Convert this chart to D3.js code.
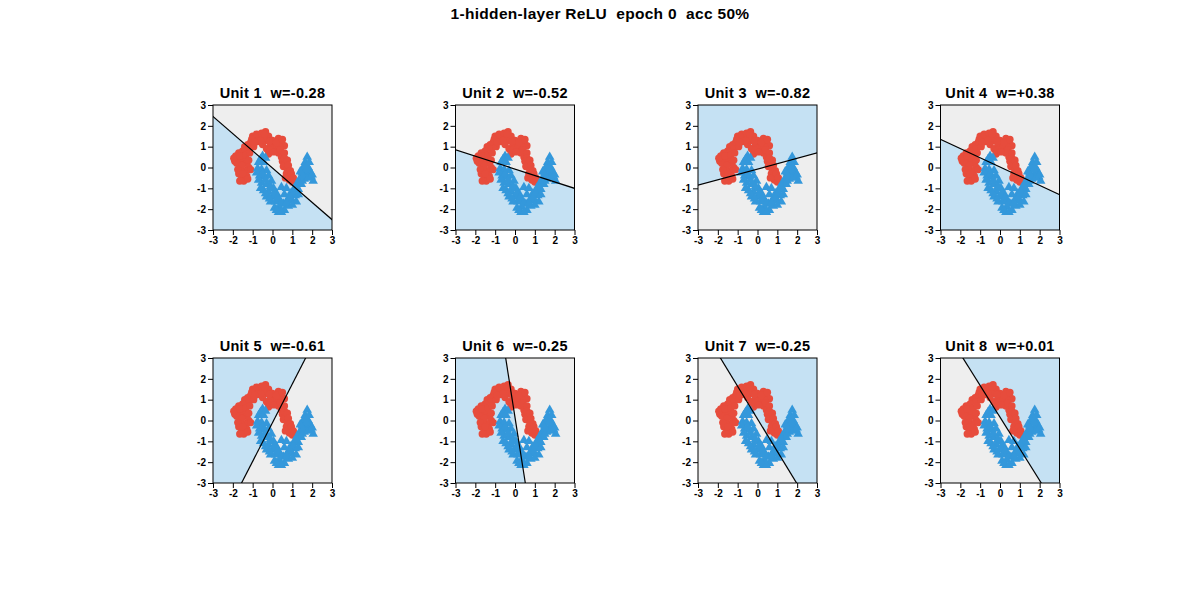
<!DOCTYPE html>
<html>
<head>
<meta charset="utf-8">
<script src="https://cdn.jsdelivr.net/npm/d3@7"></script>
<style>
  body { margin: 0; background: #fff; }
  text { font-family: "Liberation Sans", Arial, sans-serif; font-weight: bold; }
</style>
</head>
<body>
<div id="chart"></div>
<script>
var svgWidth = 1200;
var svgHeight = 600;

// Chart texts
var mainTitle = "1-hidden-layer ReLU  epoch 0  acc 50%";
var unitNames = ["Unit 1", "Unit 2", "Unit 3", "Unit 4", "Unit 5", "Unit 6", "Unit 7", "Unit 8"];
var unitWeights = ["-0.28", "-0.52", "-0.82", "+0.38", "-0.61", "-0.25", "-0.25", "+0.01"];
var tickValues = [-3, -2, -1, 0, 1, 2, 3];

// Decision boundary of each unit, read as two end points (data coords)
var lineStart = [[-3, 2.45], [-3, 0.85], [-3, -0.85], [-3, 1.35], [-1.56, -3], [-0.47, 3], [-1.87, 3], [-1.87, 3]];
var lineEnd = [[3, -2.5], [3, -1.0], [3, 0.7], [3, -1.3], [1.67, 3], [0.52, -3], [1.97, -3], [2.08, -3]];
// a point lying on the active (blue) side of each boundary
var activeSide = [[-3, -3], [-3, -3], [-3, 3], [-3, -3], [-3, 0], [-3, 0], [3, 0], [3, 0]];

// Class 0 (red circles)
var redPoints = [
  [-0.35, 1.72], [-0.2, 1.5], [-0.45, 1.45], [-0.3, 1.3], [-0.65, 1.5], [-0.85, 1.4],
  [-1.0, 1.5], [-0.75, 1.25], [-1.1, 1.2], [-1.25, 1.1], [-1.4, 1.0], [-1.2, 0.9],
  [-0.95, 1.0], [-1.5, 0.8], [-1.7, 0.7], [-1.85, 0.55], [-1.75, 0.4], [-1.9, 0.3],
  [-1.6, 0.3], [-1.45, 0.45], [-1.3, 0.2], [-1.2, 0.0], [-1.35, -0.15], [-1.6, -0.1],
  [-1.7, -0.3], [-1.55, -0.5], [-1.45, -0.65], [-1.3, -0.4], [-0.5, 1.1], [-0.3, 0.9],
  [-0.1, 1.1], [0.0, 1.3], [0.15, 0.95], [-0.2, 0.65], [0.3, 1.4], [0.45, 1.2],
  [0.6, 1.05], [0.35, 1.0], [0.3, 0.7], [0.45, 0.5], [0.5, 0.3], [0.65, 0.2],
  [0.55, 0.05], [0.75, -0.1], [0.7, -0.3], [0.9, -0.4], [0.85, -0.6], [1.0, -0.7],
  [-0.6, 1.3], [-0.15, 1.25], [-1.8, 0.2], [-1.95, 0.45], [-1.65, 0.55], [-1.55, 0.1],
  [-1.75, -0.1], [-1.5, -0.3], [-1.35, 0.6], [-1.15, 0.7], [-1.05, 1.35], [-0.9, 1.2],
  [-0.8, 1.6], [-0.55, 1.65], [-0.4, 1.6], [-0.1, 0.85], [0.05, 0.75], [0.2, 1.2],
  [0.5, 1.35], [0.4, 0.85], [0.6, 0.7], [0.6, 0.45], [0.75, 0.35], [0.8, 0.1],
  [0.9, -0.15], [0.95, -0.3], [0.65, -0.5], [1.05, -0.5], [-1.25, -0.55], [-1.65, -0.65],
  [-1.1, -0.1], [-1.2, 0.35]
];

// Class 1 (blue triangles)
var bluePoints = [
  [-0.5, 0.6], [-0.7, 0.3], [-0.45, 0.3], [-0.75, 0.0], [-0.55, -0.05], [-0.3, -0.1],
  [-0.65, -0.35], [-0.4, -0.4], [-0.2, -0.35], [-0.55, -0.7], [-0.3, -0.75], [-0.05, -0.6],
  [-0.45, -1.05], [-0.2, -1.1], [0.05, -0.95], [-0.3, -1.35], [0.0, -1.35], [0.2, -1.2],
  [-0.1, -1.6], [0.15, -1.6], [0.35, -1.5], [0.1, -1.9], [0.35, -1.85], [0.55, -1.7],
  [0.3, -2.1], [0.6, -2.0], [0.75, -1.5], [0.8, -1.8], [1.0, -1.55], [0.6, -1.25],
  [0.9, -1.2], [1.15, -1.3], [1.1, -0.95], [1.3, -1.0], [1.25, -0.7], [1.45, -0.75],
  [1.4, -0.45], [1.6, -0.5], [1.5, -0.2], [1.75, -0.25], [1.55, 0.05], [1.8, 0.05],
  [1.65, 0.3], [1.9, -0.15], [1.75, 0.55], [1.95, -0.4], [2.05, -0.6], [0.45, -0.9],
  [0.7, -0.95], [1.2, -1.6], [-0.6, 0.45], [-0.35, 0.5], [-0.8, -0.2], [-0.5, -0.25],
  [-0.7, -0.55], [-0.35, -0.55], [-0.1, -0.85], [-0.6, -0.95], [-0.35, -1.2], [0.1, -1.15],
  [-0.15, -1.45], [0.25, -1.4], [0.45, -1.65], [0.2, -2.0], [0.45, -2.1], [0.7, -1.65],
  [0.9, -1.4], [1.05, -1.15], [1.2, -0.85], [1.35, -0.6], [1.5, -0.6], [1.55, -0.35],
  [1.7, -0.05], [1.65, 0.15], [1.85, 0.3], [1.8, -0.45], [2.0, -0.3], [1.4, -0.15],
  [1.3, -1.25], [1.0, -1.75]
];

// Panel layout
var panelLefts = [213, 455.5, 698, 940.5];
var panelTops = [105, 358];
var panelW = 119;
var panelH = 125;

var svg = d3.select("#chart")
  .append("svg")
  .attr("width", svgWidth)
  .attr("height", svgHeight);

svg.append("text")
  .attr("x", 600)
  .attr("y", 19)
  .attr("text-anchor", "middle")
  .style("font-size", "15.5px")
  .style("letter-spacing", "0.3px")
  .style("white-space", "pre")
  .text(mainTitle);

var defs = svg.append("defs");
var triangle = d3.symbol().type(d3.symbolTriangle).size(40);

unitNames.forEach(function(name, i) {
  var left = panelLefts[i % 4];
  var top = panelTops[Math.floor(i / 4)];

  var xScale = d3.scaleLinear().domain([-3, 3]).range([left, left + panelW]);
  var yScale = d3.scaleLinear().domain([-3, 3]).range([top + panelH, top]);

  defs.append("clipPath")
    .attr("id", "clip" + i)
    .append("rect")
    .attr("x", left).attr("y", top)
    .attr("width", panelW).attr("height", panelH);

  var g = svg.append("g");
  var plot = g.append("g").attr("clip-path", "url(#clip" + i + ")");

  // inactive region
  plot.append("rect")
    .attr("x", left).attr("y", top)
    .attr("width", panelW).attr("height", panelH)
    .attr("fill", "#eeeeee");

  // active half plane
  var p0 = lineStart[i], p1 = lineEnd[i];
  var dx = p1[0] - p0[0], dy = p1[1] - p0[1];
  var len = Math.sqrt(dx * dx + dy * dy);
  dx /= len; dy /= len;
  var nx = -dy, ny = dx;
  var side = (activeSide[i][0] - p0[0]) * nx + (activeSide[i][1] - p0[1]) * ny;
  if (side < 0) { nx = -nx; ny = -ny; }
  var far = 50;
  var a = [p0[0] - far * dx, p0[1] - far * dy];
  var b = [p1[0] + far * dx, p1[1] + far * dy];
  var poly = [a, b, [b[0] + far * nx, b[1] + far * ny], [a[0] + far * nx, a[1] + far * ny]];
  plot.append("polygon")
    .attr("points", poly.map(function(p) { return xScale(p[0]) + "," + yScale(p[1]); }).join(" "))
    .attr("fill", "#c5e1f3");

  // data
  plot.selectAll("circle")
    .data(redPoints)
    .enter()
    .append("circle")
    .attr("cx", d => xScale(d[0]))
    .attr("cy", d => yScale(d[1]))
    .attr("r", 3.7)
    .attr("fill", "#e74c3c");

  plot.selectAll(".tri")
    .data(bluePoints)
    .enter()
    .append("path")
    .attr("class", "tri")
    .attr("d", triangle)
    .attr("transform", d => `translate(${xScale(d[0])}, ${yScale(d[1]) + 1})`)
    .attr("fill", "#3498db");

  // boundary line
  plot.append("line")
    .attr("x1", xScale(a[0])).attr("y1", yScale(a[1]))
    .attr("x2", xScale(b[0])).attr("y2", yScale(b[1]))
    .attr("stroke", "#000")
    .attr("stroke-width", 1.2);

  // frame
  g.append("rect")
    .attr("x", left).attr("y", top)
    .attr("width", panelW).attr("height", panelH)
    .attr("fill", "none")
    .attr("stroke", "#000")
    .attr("stroke-width", 1);

  // axes
  var bottomAxis = d3.axisBottom(xScale).tickValues(tickValues).tickFormat(d => String(d))
    .tickSize(5).tickSizeOuter(0).tickPadding(2);
  var leftAxis = d3.axisLeft(yScale).tickValues(tickValues).tickFormat(d => String(d))
    .tickSize(5).tickSizeOuter(0).tickPadding(2);

  var xa = g.append("g")
    .attr("transform", `translate(0, ${top + panelH})`)
    .call(bottomAxis);
  var ya = g.append("g")
    .attr("transform", `translate(${left}, 0)`)
    .call(leftAxis);

  [xa, ya].forEach(function(ax) {
    ax.select(".domain").remove();
    ax.selectAll("line").attr("stroke", "#000");
    ax.selectAll("text")
      .attr("fill", "#000")
      .style("font-size", "10px")
      .style("font-family", "'Liberation Sans', Arial, sans-serif")
      .style("font-weight", "bold");
  });

  // panel title
  g.append("text")
    .attr("x", left + panelW / 2)
    .attr("y", top - 7)
    .attr("text-anchor", "middle")
    .style("font-size", "14.5px")
    .style("letter-spacing", "0.3px")
    .style("white-space", "pre")
    .text(name + "  w=" + unitWeights[i]);
});
</script>
</body>
</html>
